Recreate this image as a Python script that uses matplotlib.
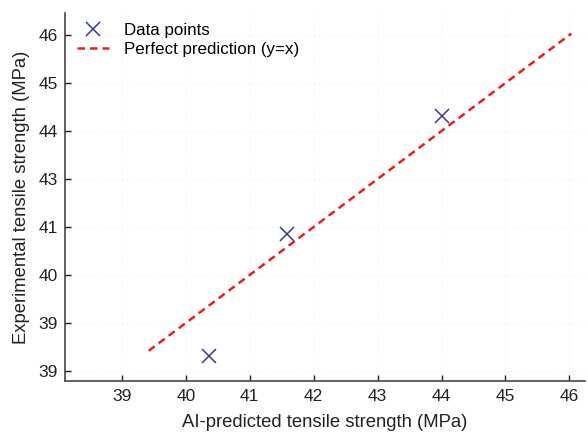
import matplotlib
matplotlib.use("Agg")
from matplotlib import pyplot as plt

# data
predicted = [40.36, 41.58, 44.0]
experimental = [39.31, 41.85, 44.31]
line_x = [39.42, 46.03]

x_ticks = [39, 40, 41, 42, 43, 44, 45, 46]
y_ticks = [39, 40, 41, 42, 43, 44, 45, 46]
y_tick_labels = ["39", "39", "40", "41", "43", "44", "45", "46"]

plt.rcParams['font.family'] = ['Liberation Sans', 'DejaVu Sans']
plt.rcParams['font.size'] = 12

fig = plt.figure(figsize=(5.88, 4.32), dpi=100)
ax = fig.add_axes([0.1105, 0.118, 0.885, 0.852])

ax.plot(predicted, experimental, linestyle='none', marker='x', markersize=10,
        markeredgewidth=1.1, color='#3535a0', label='Data points')
ax.plot(line_x, line_x, linestyle='--', color='#ee1c1c', linewidth=1.8,
        dashes=(3, 2), label='Perfect prediction (y=x)')

ax.set_xlim(38.11, 46.25)
ax.set_ylim(38.79, 46.46)
ax.set_xticks(x_ticks)
ax.set_yticks(y_ticks)
ax.set_yticklabels(y_tick_labels)

ax.grid(True, color='#f3f3f3', linestyle=':', linewidth=0.8)
for s in ['top', 'right']:
    ax.spines[s].set_visible(False)
for s in ['left', 'bottom']:
    ax.spines[s].set_color('#444444')
    ax.spines[s].set_linewidth(1.2)
ax.tick_params(direction='in', length=4, width=1, colors='#222222', labelsize=12.5)
ax.tick_params(axis='x', pad=6)
ax.tick_params(axis='y', pad=5)

ax.set_xlabel('AI-predicted tensile strength (MPa)', fontsize=13.3, labelpad=7, color='#222222')
ax.set_ylabel('Experimental tensile strength (MPa)', fontsize=13.3, labelpad=6, color='#222222')

ax.legend(loc='upper left', frameon=False, fontsize=12.2, handlelength=1.9,
          handletextpad=0.9, borderaxespad=0.3, labelspacing=0.25,
          bbox_to_anchor=(0.0, 1.005))

fig.savefig('out.png', dpi=100)
